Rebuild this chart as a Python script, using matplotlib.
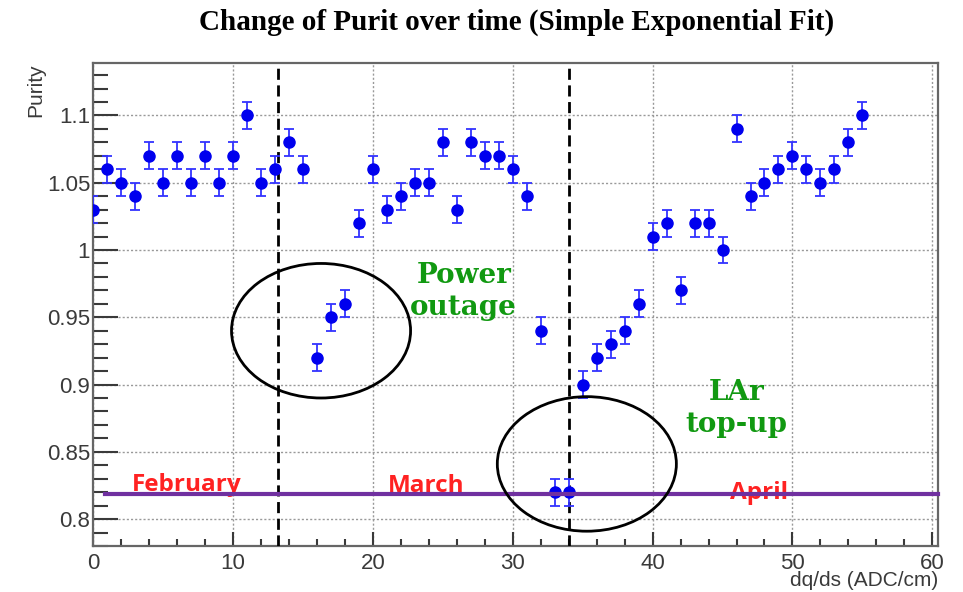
import numpy as np
import matplotlib.pyplot as plt
from matplotlib.patches import Ellipse
from matplotlib.ticker import MultipleLocator

# data
x_run = np.arange(0, 56)
purity = [1.03, 1.06, 1.05, 1.04, 1.07, 1.05, 1.07, 1.05, 1.07, 1.05,
          1.07, 1.10, 1.05, 1.06, 1.08, 1.06, 0.92, 0.95, 0.96, 1.02,
          1.06, 1.03, 1.04, 1.05, 1.05, 1.08, 1.03, 1.08, 1.07, 1.07,
          1.06, 1.04, 0.94, 0.82, 0.82, 0.90, 0.92, 0.93, 0.94, 0.96,
          1.01, 1.02, 0.97, 1.02, 1.02, 1.00, 1.09, 1.04, 1.05, 1.06,
          1.07, 1.06, 1.05, 1.06, 1.08, 1.10]
purity_err = [0.01] * len(purity)

month_names = ['February', 'March', 'April']
month_x = [6.7, 23.8, 47.6]
month_y = [0.821, 0.820, 0.815]
month_line_y = 0.819
split_x = [13.2, 34.0]

notes = ['Power\noutage', 'LAr\ntop-up']
notes_xy = [(26.5, 0.969), (46.0, 0.882)]
circles = [(16.3, 0.940), (35.3, 0.841)]

fig = plt.figure(figsize=(9.63, 5.92), dpi=100)
ax = fig.add_axes([0.0966, 0.0777, 0.8774, 0.8159])

ax.errorbar(x_run, purity, yerr=purity_err, fmt='o', color='#0000ee',
            ecolor='#3333ff', markersize=8, elinewidth=1.3, capsize=3.5,
            capthick=1.3, zorder=4)

ax.set_xlim(0, 60.4)
ax.set_ylim(0.78, 1.139)

# ROOT-ish look
ax.xaxis.set_major_locator(MultipleLocator(10))
ax.xaxis.set_minor_locator(MultipleLocator(2))
ax.yaxis.set_major_locator(MultipleLocator(0.05))
ax.yaxis.set_minor_locator(MultipleLocator(0.01))
ax.yaxis.set_major_formatter(plt.FuncFormatter(lambda v, p: f'{v:g}'))
ax.tick_params(axis='y', which='major', direction='in', length=18, width=1.5,
               colors='#3a3a3a', labelsize=16, pad=2)
ax.tick_params(axis='y', which='minor', direction='in', length=11, width=1.5,
               colors='#3a3a3a')
ax.tick_params(axis='x', which='major', direction='in', length=10, width=1.5,
               colors='#3a3a3a', labelsize=16, pad=5)
ax.tick_params(axis='x', which='minor', direction='in', length=5, width=1.5,
               colors='#3a3a3a')
for lab in ax.get_xticklabels() + ax.get_yticklabels():
    lab.set_family('Liberation Sans')
ax.grid(True, which='major', linestyle=(0, (1.5, 1.5)), color='#999999',
        linewidth=1)
for s in ax.spines.values():
    s.set_color('#666666')
    s.set_linewidth(1.6)

ax.set_xlabel('dq/ds (ADC/cm)', loc='right', fontsize=15, color='#3a3a3a',
              family='Liberation Sans', labelpad=-2)
ax.set_ylabel('Purity', loc='top', fontsize=15, color='#3a3a3a',
              family='Liberation Sans')
ax.yaxis.set_label_coords(-0.057, 1.0)

fig.suptitle('Change of Purit over time (Simple Exponential Fit)',
             x=0.536, y=0.985, fontsize=21, fontweight='bold',
             family='Liberation Serif')

# month separators and month line
for xv in split_x:
    ax.axvline(xv, color='black', linestyle=(0, (4, 2)), linewidth=2, zorder=3)
ax.plot([0.85, 60.4], [month_line_y, month_line_y], color='#7030a0',
        linewidth=3, zorder=5, clip_on=False)
for name, mx, my in zip(month_names, month_x, month_y):
    ax.text(mx, my, name, color='#ff2222', fontsize=17.5, fontweight='bold',
            family='Open Sans', ha='center', va='baseline', zorder=4)

# circles around the drops
for cx, cy in circles:
    ax.add_patch(Ellipse((cx, cy), 12.8, 0.1, fill=False, edgecolor='black',
                         linewidth=2, zorder=6))

for txt, (tx, ty) in zip(notes, notes_xy):
    ax.text(tx, ty, txt, color='#119911', fontsize=20, fontweight='bold',
            family='DejaVu Serif', ha='center', va='center',
            linespacing=1.22, zorder=6)

fig.savefig('out.png', dpi=100)
